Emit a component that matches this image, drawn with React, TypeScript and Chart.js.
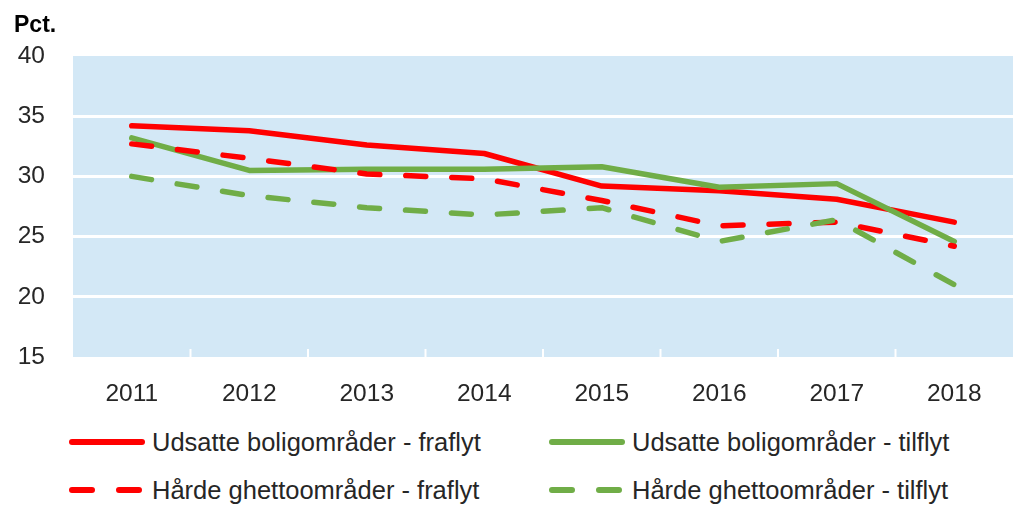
import React, { useEffect, useRef } from "react";
import { Chart, registerables } from "chart.js";

Chart.register(...registerables);

const categories = ["2011", "2012", "2013", "2014", "2015", "2016", "2017", "2018"];
const udsatteFraflyt = [34.2, 33.8, 32.6, 31.9, 29.2, 28.8, 28.1, 26.2];
const udsatteTilflyt = [33.2, 30.5, 30.6, 30.6, 30.8, 29.1, 29.4, 24.6];
const haardeFraflyt = [32.7, 31.5, 30.2, 29.8, 28.0, 25.9, 26.2, 24.2];
const haardeTilflyt = [30.0, 28.4, 27.4, 26.8, 27.4, 24.6, 26.4, 21.0];
const yTicks = [15, 20, 25, 30, 35, 40];

const RED = "#FF0000";
const GREEN = "#70AD47";
const BG = "#D3E8F6";
const FONT = "'Liberation Sans', Arial, sans-serif";

const legendItems = [
  { label: "Udsatte boligområder - fraflyt", color: RED, dashed: false },
  { label: "Udsatte boligområder - tilflyt", color: GREEN, dashed: false },
  { label: "Hårde ghettoområder - fraflyt", color: RED, dashed: true },
  { label: "Hårde ghettoområder - tilflyt", color: GREEN, dashed: true },
];

const bgPlugin = {
  id: "plotBg",
  beforeDraw(chart: any) {
    const { ctx, chartArea } = chart;
    ctx.save();
    ctx.fillStyle = BG;
    ctx.fillRect(chartArea.left, chartArea.top, chartArea.right - chartArea.left, chartArea.bottom - chartArea.top);
    ctx.restore();
  },
  afterDatasetsDraw(chart: any) {
    const { ctx, chartArea } = chart;
    const xs = chart.scales.x;
    ctx.save();
    ctx.strokeStyle = "#FFFFFF";
    ctx.lineWidth = 2;
    for (let i = 0; i < categories.length - 1; i++) {
      const a = xs.getPixelForValue(i);
      const b = xs.getPixelForValue(i + 1);
      const x = (a + b) / 2;
      ctx.beginPath();
      ctx.moveTo(x, chartArea.bottom);
      ctx.lineTo(x, chartArea.bottom - 8);
      ctx.stroke();
    }
    ctx.restore();
  },
};

function LegendSample({ color, dashed }: { color: string; dashed: boolean }) {
  return (
    <svg width={80} height={12} style={{ display: "block" }}>
      <line
        x1={4}
        y1={6}
        x2={74}
        y2={6}
        stroke={color}
        strokeWidth={6}
        strokeLinecap="round"
        strokeDasharray={dashed ? "20 27" : undefined}
      />
    </svg>
  );
}

export default function App() {
  const canvasRef = useRef<HTMLCanvasElement | null>(null);

  useEffect(() => {
    document.body.style.margin = "0";
    const ctx = canvasRef.current!.getContext("2d")!;
    const ds = (label: string, data: number[], color: string, dashed: boolean) => ({
      label,
      data,
      borderColor: color,
      backgroundColor: color,
      borderWidth: 5.5,
      borderDash: dashed ? [20, 26] : [],
      borderCapStyle: "round" as const,
      borderJoinStyle: "round" as const,
      pointRadius: 0,
      tension: 0,
      fill: false,
    });
    const chart = new Chart(ctx, {
      type: "line",
      data: {
        labels: categories,
        datasets: [
          ds("Hårde ghettoområder - tilflyt", haardeTilflyt, GREEN, true),
          ds("Hårde ghettoområder - fraflyt", haardeFraflyt, RED, true),
          ds("Udsatte boligområder - tilflyt", udsatteTilflyt, GREEN, false),
          ds("Udsatte boligområder - fraflyt", udsatteFraflyt, RED, false),
        ],
      },
      options: {
        animation: false,
        responsive: false,
        maintainAspectRatio: false,
        layout: { padding: { top: 56, right: 7, left: 0, bottom: 0 } },
        plugins: {
          legend: { display: false },
          tooltip: { enabled: false },
          title: { display: false },
        },
        scales: {
          x: {
            type: "category",
            offset: true,
            grid: { display: false, drawTicks: false },
            border: { display: false },
            ticks: {
              color: "#262626",
              font: { family: FONT, size: 24.5 },
              padding: 23,
              maxRotation: 0,
            },
            afterFit: (s: any) => {
              s.height = 53;
            },
          },
          y: {
            min: 15,
            max: 40,
            afterBuildTicks: (s: any) => {
              s.ticks = yTicks.map((v) => ({ value: v }));
            },
            grid: {
              color: (c: any) => (c.tick && (c.tick.value === 15 || c.tick.value === 40) ? "rgba(0,0,0,0)" : "#FFFFFF"),
              lineWidth: 3,
              drawTicks: false,
            },
            border: { display: false },
            ticks: {
              color: "#262626",
              font: { family: FONT, size: 24.5 },
              padding: 28,
            },
            afterFit: (s: any) => {
              s.width = 73;
            },
          },
        },
      },
      plugins: [bgPlugin],
    });
    return () => chart.destroy();
  }, []);

  return (
    <div style={{ position: "relative", width: 1020, height: 505, background: "#fff", fontFamily: FONT }}>
      <div
        style={{
          position: "absolute",
          left: 14,
          top: 11,
          fontWeight: "bold",
          fontSize: 23,
          lineHeight: "26px",
          color: "#000",
        }}
      >
        Pct.
      </div>
      <canvas ref={canvasRef} width={1020} height={410} style={{ display: "block", width: 1020, height: 410 }} />
      {legendItems.map((it, i) => {
        const col = i % 2;
        const row = Math.floor(i / 2);
        return (
          <div
            key={it.label}
            style={{
              position: "absolute",
              left: col === 0 ? 68 : 548,
              top: row === 0 ? 442 - 15 : 490 - 15,
              height: 30,
              display: "flex",
              alignItems: "center",
            }}
          >
            <LegendSample color={it.color} dashed={it.dashed} />
            <span style={{ fontSize: 25.5, lineHeight: "30px", color: "#262626", marginLeft: 4, whiteSpace: "nowrap" }}>
              {it.label}
            </span>
          </div>
        );
      })}
    </div>
  );
}
